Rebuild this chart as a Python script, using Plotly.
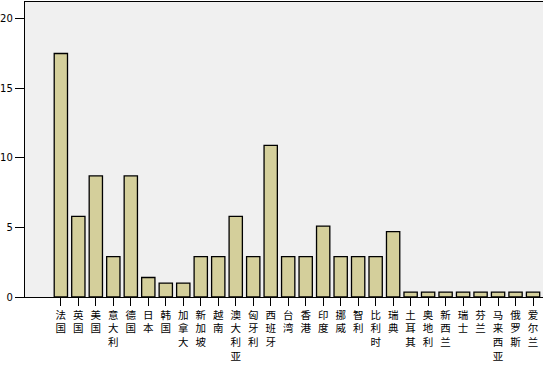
import plotly.graph_objects as go

categories = ["法国", "英国", "美国", "意大利", "德国", "日本", "韩国", "加拿大", "新加坡", "越南",
              "澳大利亚", "匈牙利", "西班牙", "台湾", "香港", "印度", "挪威", "智利", "比利时", "瑞典",
              "土耳其", "奥地利", "新西兰", "瑞士", "芬兰", "马来西亚", "俄罗斯", "爱尔兰"]
values = [17.5, 5.8, 8.7, 2.9, 8.7, 1.4, 1.0, 1.0, 2.9, 2.9,
          5.8, 2.9, 10.9, 2.9, 2.9, 5.1, 2.9, 2.9, 2.9, 4.7,
          0.35, 0.35, 0.35, 0.35, 0.35, 0.35, 0.35, 0.35]
y_ticks = [0, 5, 10, 15, 20]

tick_text = ["<br>".join(list(c)) for c in categories]
idx = list(range(len(categories)))

fig = go.Figure(go.Bar(
    x=idx, y=values, width=0.76,
    marker=dict(color="#d4cf9b", line=dict(color="black", width=1.3)),
))

fig.update_layout(
    width=544, height=367,
    margin=dict(l=25, r=1, t=2, b=70),
    plot_bgcolor="#f0f0f0", paper_bgcolor="white",
    showlegend=False,
    font=dict(family="Noto Sans CJK SC, DejaVu Sans", size=11, color="black"),
)
fig.update_xaxes(
    range=[-2.05, 27.57], tickmode="array", tickvals=idx, ticktext=tick_text,
    showline=True, linecolor="black", linewidth=1.3, mirror=True,
    ticks="outside", ticklen=8, tickcolor="black", tickwidth=1.3,
    showgrid=False, zeroline=False, tickangle=0, automargin=False,
    tickfont=dict(family="Noto Sans CJK SC", size=10.5),
)
fig.update_yaxes(
    range=[0, 21.2], tickvals=y_ticks, automargin=False,
    showline=True, linecolor="black", linewidth=1.3,
    ticks="outside", ticklen=9, tickcolor="black", tickwidth=1.3,
    showgrid=False, zeroline=False,
    tickfont=dict(family="DejaVu Sans", size=10),
)

fig.write_html("out.html")
